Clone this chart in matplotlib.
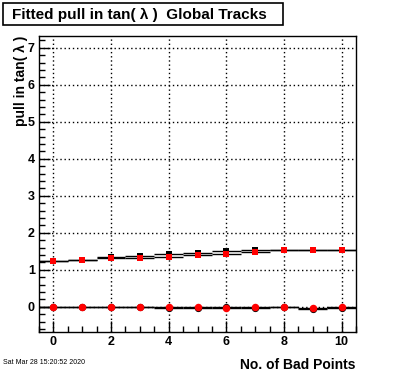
import matplotlib
matplotlib.use("Agg")
import matplotlib.pyplot as plt
from matplotlib.patches import Rectangle
from matplotlib.ticker import MultipleLocator
import numpy as np

plt.rcParams['font.family'] = ['Liberation Sans', 'DejaVu Sans']

bad_points = [0, 1, 2, 3, 4, 5, 6, 7, 8, 9, 10]
sigma_black = [1.23, 1.26, 1.34, 1.37, 1.42, 1.46, 1.50, 1.53, 1.54, 1.54, 1.54]
sigma_red = [1.23, 1.26, 1.33, 1.33, 1.36, 1.39, 1.42, 1.47, 1.53, 1.53, 1.53]
mean_black = [0.0, 0.0, 0.0, 0.0, -0.03, -0.02, -0.01, -0.02, 0.0, -0.06, -0.02]
mean_red = [0.0, 0.0, 0.0, 0.0, 0.0, 0.0, -0.02, 0.0, 0.0, -0.03, 0.0]
x_err = 0.5

fig = plt.figure(figsize=(3.96, 3.72), dpi=100)
ax = fig.add_axes([39/396, 1-332/372, (356-39)/396, (332-36)/372])

ax.errorbar(bad_points, sigma_black, xerr=x_err, fmt='s', color='black', ecolor='black',
            elinewidth=1, markersize=4.4, mew=0, capsize=0, zorder=3)
ax.errorbar(bad_points, mean_black, xerr=x_err, fmt='o', color='black', ecolor='black',
            elinewidth=1, markersize=5.2, mew=0, capsize=0, zorder=3)
ax.errorbar(bad_points, sigma_red, xerr=x_err, fmt='s', color='red', ecolor='black',
            elinewidth=1, markersize=4.6, mew=0, capsize=0, zorder=4)
ax.errorbar(bad_points, mean_red, xerr=x_err, fmt='o', color='red', ecolor='black',
            elinewidth=1, markersize=5.4, mew=0, capsize=0, zorder=4)

ax.set_xlim(-0.5, 10.5)
ax.set_ylim(-0.68, 7.32)
ax.xaxis.set_major_locator(MultipleLocator(2))
ax.xaxis.set_minor_locator(MultipleLocator(0.5))
ax.yaxis.set_major_locator(MultipleLocator(1))
ax.yaxis.set_minor_locator(MultipleLocator(0.2))
ax.tick_params(which='both', direction='in', top=False, right=False, width=1)
ax.tick_params(which='major', length=8, labelsize=9, pad=3)
ax.tick_params(which='minor', length=4)
for lab in ax.get_xticklabels() + ax.get_yticklabels():
    lab.set_fontweight('bold')
ax.grid(True, which='major', linestyle=(0, (1, 2)), color='black', linewidth=1)
for s in ax.spines.values():
    s.set_linewidth(1)

ax.set_xlabel('No. of Bad Points', fontsize=10, fontweight='bold', loc='right', labelpad=7)
ax.set_ylabel('pull in tan( λ )', fontsize=10, fontweight='bold', loc='top', labelpad=0)

fig.patches.append(Rectangle((3/396, 1-25/372), 280/396, 22/372, transform=fig.transFigure,
                             facecolor='white', edgecolor='black', linewidth=1.2))
fig.text(12/396, 1-14.5/372, 'Fitted pull in tan( λ )  Global Tracks', fontsize=11,
         fontweight='bold', va='center', ha='left')
fig.text(3/396, 1-363/372, 'Sat Mar 28 15:20:52 2020', fontsize=5, va='center', ha='left')

fig.savefig('out.png', dpi=100)
